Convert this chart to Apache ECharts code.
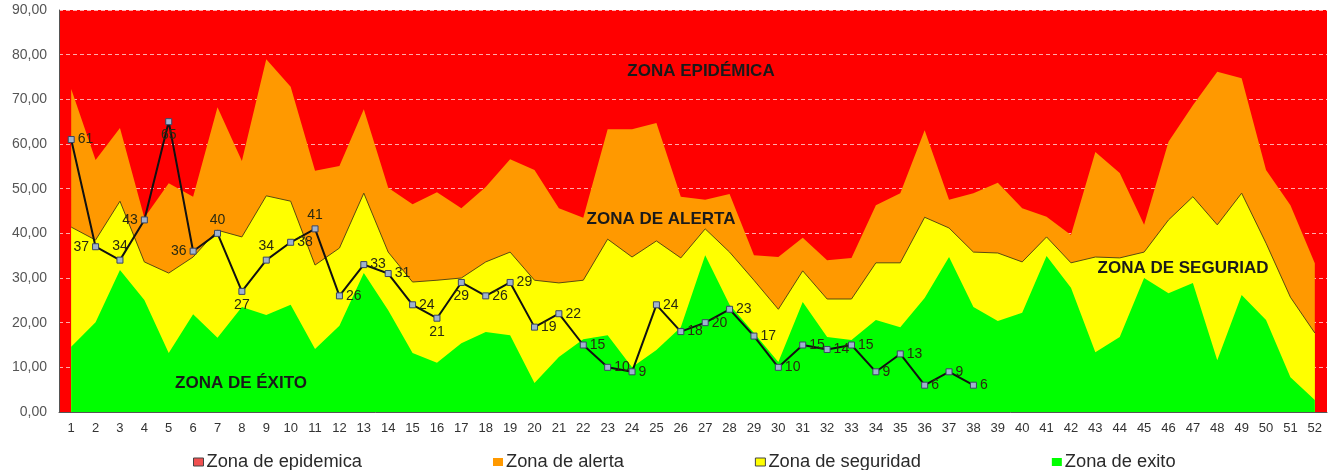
<!DOCTYPE html>
<html>
<head>
<meta charset="utf-8">
<script src="https://cdn.jsdelivr.net/npm/echarts@6/dist/echarts.min.js"></script>
<style>
  html, body { margin: 0; padding: 0; background: #ffffff; }
  #chart { width: 1335px; height: 470px; }
</style>
</head>
<body>
<div id="chart"></div>
<script>
// ---- Data ----
const weeks = Array.from({length: 52}, (_, i) => String(i + 1));

// Upper limit of the alert zone (orange top)
const alerta = [72.3, 56.4, 63.6, 43.5, 51.2, 48.2, 68.2, 56.2, 79.0, 72.8,
                54.0, 55.1, 67.8, 50.2, 46.5, 49.2, 45.6, 50.4, 56.6, 54.2,
                45.6, 43.5, 63.3, 63.3, 64.7, 48.2, 47.5, 48.8, 35.1, 34.7,
                39.0, 34.0, 34.5, 46.3, 49.0, 63.1, 47.5, 49.0, 51.3, 45.6,
                43.7, 39.6, 58.2, 53.5, 41.9, 60.5, 68.7, 76.2, 74.7, 54.2,
                46.3, 33.3];

// Upper limit of the security zone (yellow top)
const seguridad = [41.4, 38.5, 47.2, 33.6, 31.1, 34.7, 40.7, 39.2, 48.4, 47.2,
                   32.9, 36.7, 49.0, 35.8, 29.1, 29.5, 30.0, 33.6, 35.8, 29.5,
                   28.9, 29.5, 38.7, 34.7, 38.3, 34.5, 41.0, 35.8, 29.5, 23.0,
                   31.6, 25.3, 25.3, 33.4, 33.4, 43.6, 41.2, 35.8, 35.6, 33.6,
                   39.2, 33.4, 34.7, 34.5, 35.8, 43.0, 48.2, 41.9, 49.0, 37.8,
                   25.7, 17.7];

// Upper limit of the success zone (green top)
const exito = [14.6, 20.1, 31.8, 25.1, 13.2, 21.9, 16.6, 23.5, 21.7, 24.0,
               14.1, 19.3, 31.1, 22.8, 13.2, 11.0, 15.4, 17.9, 17.2, 6.5,
               12.3, 16.3, 17.2, 10.0, 13.9, 19.0, 35.1, 24.0, 17.7, 11.2,
               24.6, 16.8, 16.1, 20.6, 19.0, 25.5, 34.7, 23.5, 20.4, 22.2,
               34.9, 27.8, 13.4, 16.8, 30.0, 26.6, 28.9, 11.6, 26.2, 20.6,
               7.8, 2.7];

// Observed cases (weeks 1-38)
const casos = [61, 37, 34, 43, 65, 36, 40, 27, 34, 38,
               41, 26, 33, 31, 24, 21, 29, 26, 29, 19,
               22, 15, 10, 9, 24, 18, 20, 23, 17, 10,
               15, 14, 15, 9, 13, 6, 9, 6];

const yMin = 0, yMax = 90, yStep = 10;

// ---- Styling (label placement per week, not data) ----
const labelPlacement = { 2: 'left', 3: 'top', 4: 'left', 5: 'bottom', 6: 'left', 7: 'top',
                         8: 'bottom', 9: 'top', 11: 'top', 16: 'bottom', 17: 'bottom' };

const FONT = 'Liberation Sans, Arial, sans-serif';
const chart = echarts.init(document.getElementById('chart'), null, {renderer: 'canvas'});

const casosData = casos.map((v, i) => {
  const pos = labelPlacement[i + 1];
  return pos ? { value: v, label: { position: pos } } : v;
});

const option = {
  animation: false,
  backgroundColor: '#ffffff',
  textStyle: { fontFamily: FONT },
  grid: {
    left: 59, right: 8, top: 10, bottom: 58,
    show: true, backgroundColor: '#FF0000', borderWidth: 0
  },
  legend: {
    left: 188, top: 448,
    icon: 'rect', itemWidth: 10, itemHeight: 8, itemGap: 131,
    textStyle: { fontSize: 18.3, color: '#2a2a2a', fontFamily: FONT, padding: [0, 0, 0, -2] },
    data: [
      { name: 'Zona de epidemica', itemStyle: { color: '#F05050', borderColor: '#444', borderWidth: 1 } },
      { name: 'Zona de alerta', itemStyle: { color: '#FF9900', borderWidth: 0 } },
      { name: 'Zona de seguridad', itemStyle: { color: '#FFFF00', borderColor: '#444', borderWidth: 1 } },
      { name: 'Zona de exito', itemStyle: { color: '#00FF00', borderWidth: 0 } }
    ]
  },
  xAxis: {
    type: 'category',
    data: weeks,
    boundaryGap: true,
    axisLine: { show: true, lineStyle: { color: '#555', width: 1 } },
    axisTick: { show: false },
    axisLabel: { interval: 0, fontSize: 13, color: '#333', margin: 10, fontFamily: FONT },
    splitLine: { show: false },
    z: 5
  },
  yAxis: {
    type: 'value',
    min: yMin, max: yMax, interval: yStep,
    axisLine: { show: true, lineStyle: { color: '#555', width: 1 } },
    axisTick: { show: false },
    axisLabel: {
      fontSize: 14, color: '#555', margin: 12, fontFamily: FONT,
      formatter: v => v.toFixed(2).replace('.', ',')
    },
    splitLine: { show: true, lineStyle: { color: 'rgba(255,190,190,0.9)', width: 1, type: [4, 3] } }
  },
  graphic: [
    { type: 'text', x: 701, y: 71, z: 100,
      style: { text: 'ZONA EPIDÉMICA', font: 'bold 17px ' + FONT, fill: '#1a1a1a', align: 'center', verticalAlign: 'middle' } },
    { type: 'text', x: 661, y: 219, z: 100,
      style: { text: 'ZONA DE ALERTA', font: 'bold 17px ' + FONT, fill: '#1a1a1a', align: 'center', verticalAlign: 'middle' } },
    { type: 'text', x: 1183, y: 268, z: 100,
      style: { text: 'ZONA DE SEGURIAD', font: 'bold 17px ' + FONT, fill: '#1a1a1a', align: 'center', verticalAlign: 'middle' } },
    { type: 'text', x: 241, y: 383, z: 100,
      style: { text: 'ZONA DE ÉXITO', font: 'bold 17px ' + FONT, fill: '#1a1a1a', align: 'center', verticalAlign: 'middle' } }
  ],
  series: [
    {
      name: 'Zona de epidemica', type: 'line', data: [],
      itemStyle: { color: '#FF0000' }, showSymbol: false, silent: true
    },
    {
      name: 'Zona de alerta', type: 'line', data: alerta, z: 2,
      showSymbol: false, silent: true,
      itemStyle: { color: '#FF9900' },
      lineStyle: { width: 0, color: '#FF9900' },
      areaStyle: { color: '#FF9900', opacity: 1 }
    },
    {
      name: 'Zona de seguridad', type: 'line', data: seguridad, z: 3,
      showSymbol: false, silent: true,
      itemStyle: { color: '#FFFF00' },
      lineStyle: { width: 1, color: '#5a4a10' },
      areaStyle: { color: '#FFFF00', opacity: 1 }
    },
    {
      name: 'Zona de exito', type: 'line', data: exito, z: 4,
      showSymbol: false, silent: true,
      itemStyle: { color: '#00FF00' },
      lineStyle: { width: 0, color: '#00FF00' },
      areaStyle: { color: '#00FF00', opacity: 1 }
    },
    {
      name: 'Casos', type: 'line', data: casosData, z: 10,
      symbol: 'rect', symbolSize: 6, showSymbol: true,
      lineStyle: { color: '#111', width: 2 },
      itemStyle: { color: '#9fb2cf', borderColor: '#3a4660', borderWidth: 1 },
      label: { show: true, position: 'right', distance: 3, fontSize: 14, color: '#2a2a10', fontFamily: FONT }
    }
  ]
};

chart.setOption(option);
</script>
</body>
</html>
